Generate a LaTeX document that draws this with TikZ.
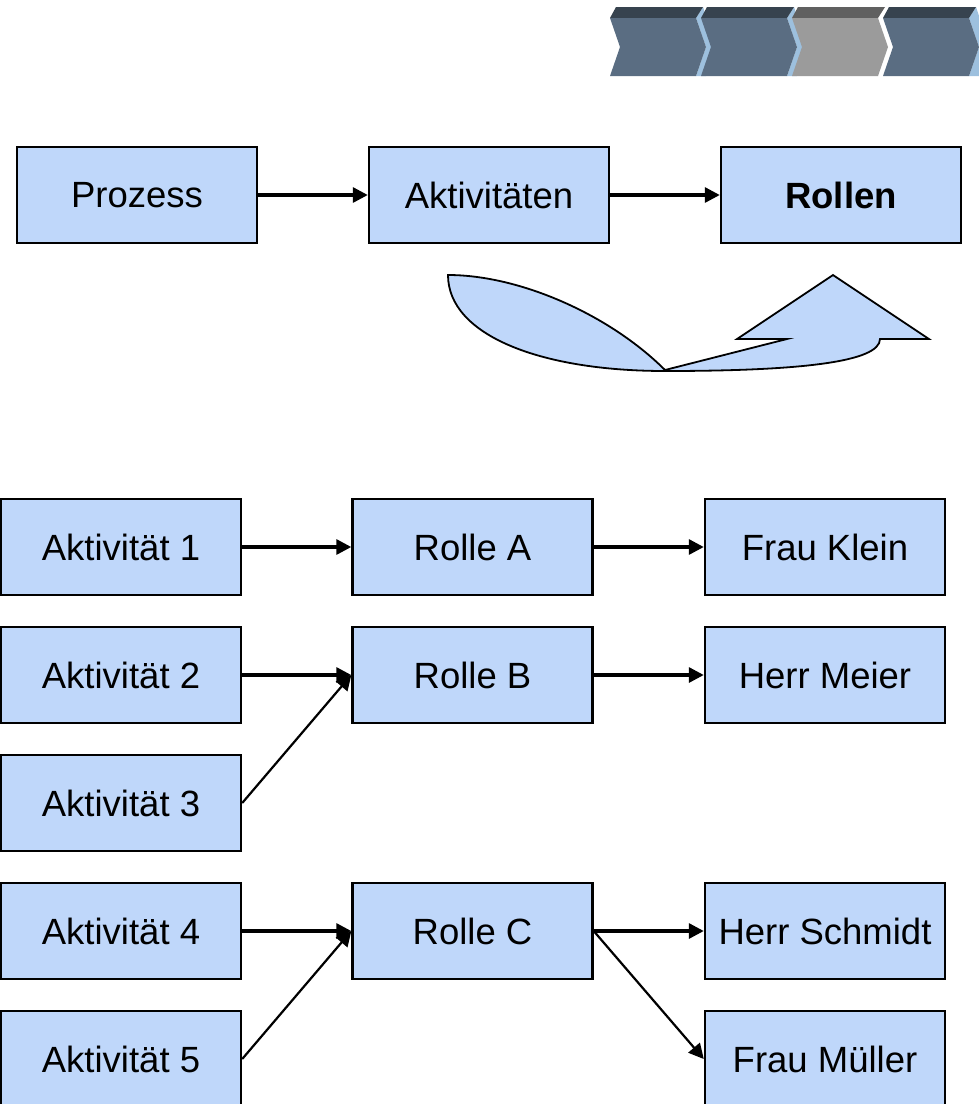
\documentclass[tikz,border=0pt]{standalone}
\usepackage{fontspec}
\setmainfont{Liberation Sans}
\usetikzlibrary{arrows.meta}
\definecolor{boxblue}{RGB}{191,215,250}
\definecolor{chevfront}{RGB}{90,109,130}
\definecolor{chevtop}{RGB}{55,67,79}
\definecolor{chevside}{RGB}{157,192,222}
\definecolor{grayfront}{RGB}{155,155,155}
\definecolor{graytop}{RGB}{96,96,96}
\begin{document}
\begin{tikzpicture}[x=1pt,y=-1pt,
  box/.style={draw=black,line width=2.4pt,fill=boxblue,minimum width=240pt,
    minimum height=96pt,inner sep=0pt,font=\fontsize{36.5}{40}\selectfont},
  link/.style={line width=3.2pt,-{Triangle[length=15pt,width=15pt]}},
  slant/.style={line width=2.2pt,-{Triangle[length=15pt,width=15pt]}}]
\useasboundingbox (0,0) rectangle (979,1104);

% process chevrons (side face, top face, front face)
\foreach \i/\fc/\tc/\sc in {0/chevfront/chevtop/chevside,1/chevfront/chevtop/chevside,
                            2/grayfront/graytop/white,3/chevfront/chevtop/chevside}{
  \pgfmathsetmacro\xa{610+91*\i}
  \fill[\sc] (\xa+86,18) -- (\xa+93,7) -- (\xa+104,40) -- (\xa+96,76)
             -- (\xa+86,76) -- (\xa+96,47) -- cycle;
  \fill[\tc] (\xa,18) -- (\xa+6,7) -- (\xa+93,7) -- (\xa+86,18) -- cycle;
  \fill[\fc] (\xa,18) -- (\xa+86,18) -- (\xa+96,47) -- (\xa+86,76)
             -- (\xa,76) -- (\xa+10,47) -- cycle;
}

% top row
\node[box] (proz) at (137,195) {Prozess};
\node[box] (akt)  at (489,195) {Aktivitäten};
\node[box] (rol)  at (841,195) {\bfseries Rollen};
\draw[link] (proz) -- (akt);
\draw[link] (akt) -- (rol);

% curved up arrow
\draw[line width=1.8pt,fill=boxblue,line join=miter]
  (448,275) .. controls (520,275) and (610,315) .. (665,370)
  -- (787,339) -- (737,339) -- (833,275) -- (929,339) -- (880,339)
  .. controls (880,362) and (800,371) .. (665,371)
  .. controls (540,371) and (448,335) .. (448,275) -- cycle;

% activities, roles, persons
\node[box] (a1) at (121,547)  {Aktivität 1};
\node[box] (a2) at (121,675)  {Aktivität 2};
\node[box] (a3) at (121,803)  {Aktivität 3};
\node[box] (a4) at (121,931)  {Aktivität 4};
\node[box] (a5) at (121,1059) {Aktivität 5};

\node[box] (ra) at (472.5,547) {Rolle A};
\node[box] (rb) at (472.5,675) {Rolle B};
\node[box] (rc) at (472.5,931) {Rolle C};

\node[box] (pk) at (825,547)  {Frau Klein};
\node[box] (pm) at (825,675)  {Herr Meier};
\node[box] (ps) at (825,931)  {Herr Schmidt};
\node[box] (pf) at (825,1059) {Frau Müller};

\draw[link] (a1) -- (ra);
\draw[link] (ra) -- (pk);
\draw[link] (a2) -- (rb);
\draw[slant] (a3.east) -- (rb.west);
\draw[link] (rb) -- (pm);
\draw[link] (a4) -- (rc);
\draw[slant] (a5.east) -- (rc.west);
\draw[link] (rc.east) -- (ps.west);
\draw[slant] (rc.east) -- (pf.west);
\end{tikzpicture}
\end{document}
